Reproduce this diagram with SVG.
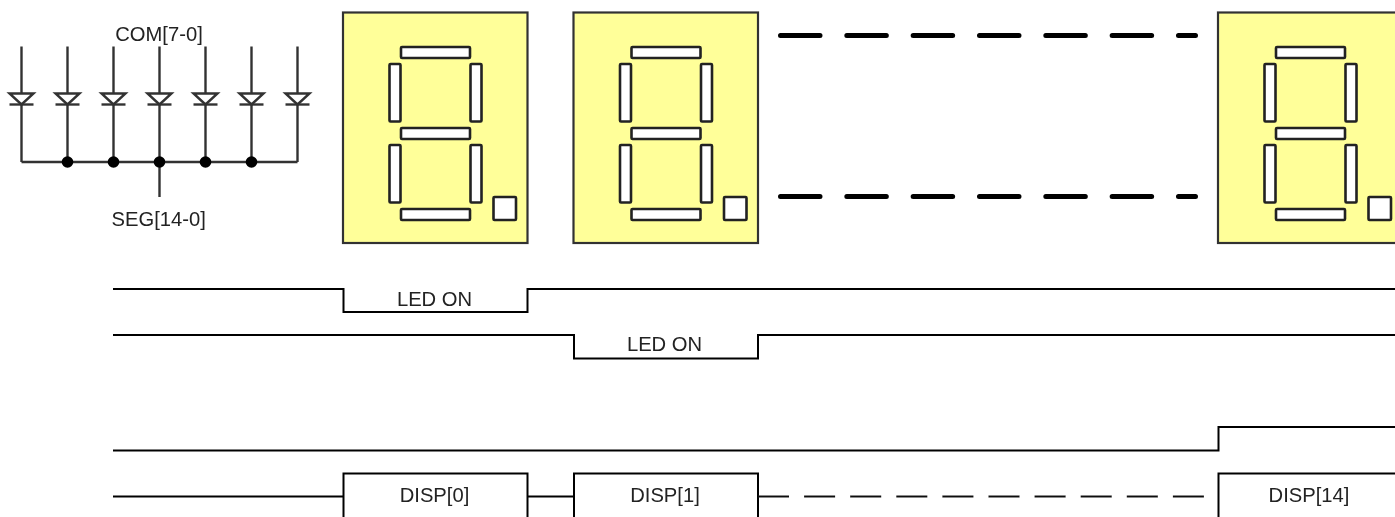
<svg xmlns="http://www.w3.org/2000/svg" xmlns:xlink="http://www.w3.org/1999/xlink" width="1395" height="517" viewBox="0 0 1395 517">
<style>
text{font-family:"Liberation Sans",Arial,sans-serif;font-size:20.200px;fill:#222;text-anchor:middle}
.w{fill:none;stroke:#000;stroke-width:2}
.c{fill:none;stroke:#333;stroke-width:2.400}
.t{fill:#fff;stroke:#333;stroke-width:2.400}
.panel{fill:#ffff99;stroke:#333;stroke-width:2.200}
.seg{fill:#fff;stroke:#222;stroke-width:2.600;stroke-linejoin:round}
.bd{fill:none;stroke:#000;stroke-width:5;stroke-linecap:round;stroke-dasharray:39.500 26.830}
.dd{fill:none;stroke:#111;stroke-width:2;stroke-dasharray:31 15.100}
</style>
<defs>
<filter id="soft" x="0" y="0" width="1395" height="517" filterUnits="userSpaceOnUse"><feGaussianBlur stdDeviation="0.6"/></filter>
<g id="digit">
<rect class="panel" x="343" y="12.500" width="184.500" height="230.500"/>
<rect class="seg" x="401" y="47" width="69" height="11" rx="1"/>
<rect class="seg" x="389.500" y="64" width="11" height="57.500" rx="1"/>
<rect class="seg" x="470.500" y="64" width="11" height="57.500" rx="1"/>
<rect class="seg" x="401" y="128" width="69" height="11" rx="1"/>
<rect class="seg" x="389.500" y="145" width="11" height="57.500" rx="1"/>
<rect class="seg" x="470.500" y="145" width="11" height="57.500" rx="1"/>
<rect class="seg" x="401" y="209" width="69" height="11" rx="1"/>
<rect class="seg" x="493.500" y="197" width="22.500" height="23" rx="1"/>
</g>
<g id="diode">
<path class="c" d="M0 46.500V93M0 104V162"/>
<path class="t" d="M-12 93.500H12L0 104.500Z"/>
<path class="c" d="M-12 104.500H12"/>
</g>
</defs>
<g filter="url(#soft)">
<g id="led-schematic">
<use xlink:href="#diode" href="#diode" x="21.500"/>
<use xlink:href="#diode" href="#diode" x="67.500"/>
<use xlink:href="#diode" href="#diode" x="113.500"/>
<use xlink:href="#diode" href="#diode" x="159.500"/>
<use xlink:href="#diode" href="#diode" x="205.500"/>
<use xlink:href="#diode" href="#diode" x="251.500"/>
<use xlink:href="#diode" href="#diode" x="297.500"/>
<path class="c" d="M21.500 162H297.500M159.500 162V197"/>
<g fill="#000"><circle cx="67.500" cy="162" r="5.800"/><circle cx="113.500" cy="162" r="5.800"/><circle cx="159.500" cy="162" r="5.800"/><circle cx="205.500" cy="162" r="5.800"/><circle cx="251.500" cy="162" r="5.800"/></g>
<text x="159" y="40.500">COM[7-0]</text>
<text x="158.700" y="226">SEG[14-0]</text>
</g>
<g id="digit-0"><use xlink:href="#digit" href="#digit"/></g>
<g id="digit-1"><use xlink:href="#digit" href="#digit" x="230.500"/></g>
<g id="digit-14"><use xlink:href="#digit" href="#digit" x="875"/></g>
<g id="connectors">
<path class="bd" d="M780.500 35.500H1195.500"/>
<path class="bd" d="M780.500 196.500H1195.500"/>
<path class="w" d="M113 289H343.500V312H527.500V289H1396"/>
<path class="w" d="M113 335H574V358.500H758V335H1396"/>
<path class="w" d="M113 450.500H1218.500V427H1396"/>
<path class="w" d="M113 496.500H343.500M527.500 496.500H574M343.500 519V473.500H527.500V519M574 519V473.500H758V519M1218.500 519V473.500H1396"/>
<path class="dd" d="M758 496.500H1204"/>
</g>
<g id="labels">
<text x="434.500" y="306">LED ON</text>
<text x="664.500" y="351">LED ON</text>
<text x="434.500" y="501.500">DISP[0]</text>
<text x="665" y="501.500">DISP[1]</text>
<text x="1309" y="501.500">DISP[14]</text>
</g>
</g>
</svg>
